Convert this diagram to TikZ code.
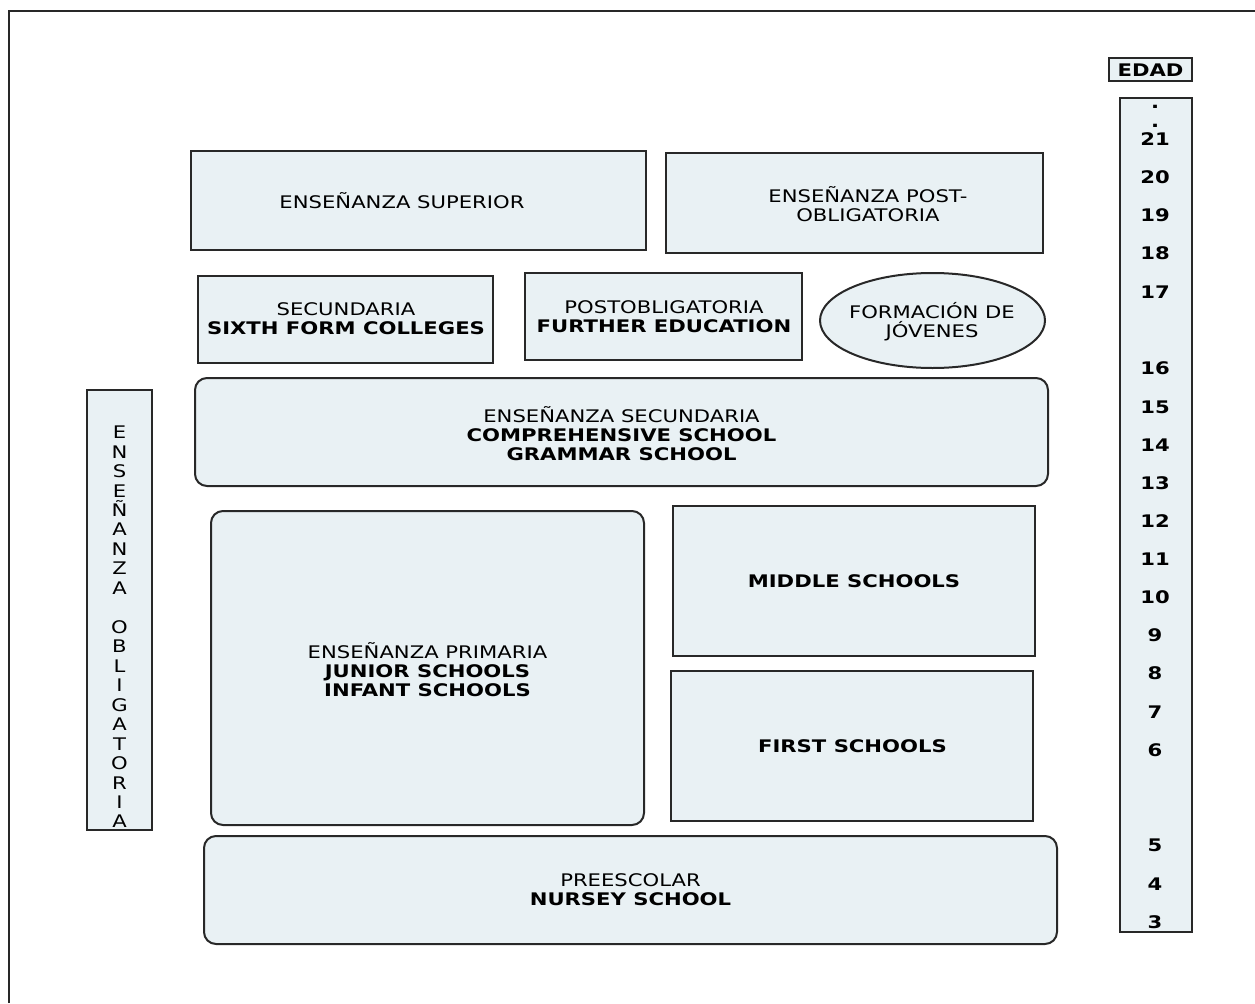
\documentclass[tikz,border=0pt]{standalone}
\usepackage{fontspec}
\setmainfont{DejaVu Sans}[FakeStretch=1.22]
\usetikzlibrary{shapes.geometric}
\definecolor{boxfill}{RGB}{233,241,244}
\definecolor{edge}{RGB}{40,40,40}
\begin{document}
\begin{tikzpicture}[x=0.75pt,y=-0.75pt,
  sz/.style n args={2}{minimum width=#1*0.75pt, minimum height=#2*0.75pt},
  box/.style={draw=edge, fill=boxfill, line width=1.5pt, inner sep=0pt, outer sep=0pt},
  rbox/.style={box, rounded corners=9pt},
  txt/.style={align=center, inner sep=0pt, font=\fontsize{13}{14.25}\selectfont},
  btxt/.style={txt, font=\fontsize{13}{14.25}\selectfont\bfseries},
  age/.style={inner sep=0pt, font=\fontsize{13}{14.25}\selectfont\bfseries}]
\useasboundingbox (0,0) rectangle (1255,1003);
% outer frame
\coordinate (fa) at (9,1003);
\coordinate (fb) at (9,11);
\coordinate (fc) at (1255,11);
\draw[line width=1.5pt, edge] (fa) -- (fb) -- (fc);
% boxes
\node[box, sz={455}{99}] (sup) at (418.5,200.5) {};
\node[txt] (tsup) at (402,201) {ENSEÑANZA SUPERIOR};
\node[box, sz={377}{100}] (post) at (854.5,203) {};
\node[txt] (tpost) at (868,204.5) {ENSEÑANZA POST-\\OBLIGATORIA};
\node[box, sz={295}{87}] (sixth) at (345.5,319.5) {};
\node[txt] (tsixth) at (346,319) {SECUNDARIA\\\textbf{SIXTH FORM COLLEGES}};
\node[box, sz={277}{87}] (further) at (663.5,316.5) {};
\node[txt] (tfurther) at (664,316.5) {POSTOBLIGATORIA\\\textbf{FURTHER EDUCATION}};
\node[box, ellipse, sz={225}{95}] (jov) at (932.5,320.5) {};
\node[txt] (tjov) at (932,321.5) {FORMACIÓN DE\\JÓVENES};
\node[rbox, sz={853}{108}] (secund) at (621.5,432) {};
\node[txt] (tsecund) at (621.5,434) {ENSEÑANZA SECUNDARIA\\\textbf{COMPREHENSIVE SCHOOL}\\\textbf{GRAMMAR SCHOOL}};
\node[rbox, sz={433}{314}] (prim) at (427.5,668) {};
\node[txt] (tprim) at (427.5,670) {ENSEÑANZA PRIMARIA\\\textbf{JUNIOR SCHOOLS}\\\textbf{INFANT SCHOOLS}};
\node[box, sz={362}{150}] (middle) at (854,581) {};
\node[btxt] (tmiddle) at (854,581) {MIDDLE SCHOOLS};
\node[box, sz={362}{150}] (first) at (852,746) {};
\node[btxt] (tfirst) at (852.5,746) {FIRST SCHOOLS};
\node[rbox, sz={853}{108}] (pre) at (630.5,890) {};
\node[txt] (tpre) at (630.5,890) {PREESCOLAR\\\textbf{NURSEY SCHOOL}};
% vertical box
\node[box, sz={65}{440}] (oblig) at (119.5,610) {};
\node[txt, font=\fontsize{13}{14.6}\selectfont] (toblig) at (119.5,627)
  {E\\N\\S\\E\\Ñ\\A\\N\\Z\\A\\\mbox{}\\O\\B\\L\\I\\G\\A\\T\\O\\R\\I\\A};
% age column
\node[box, sz={83}{23}] (edad) at (1150.5,69.5) {};
\node[age] (tedad) at (1150.5,70) {EDAD};
\node[box, sz={72}{834}] (ages) at (1156,515) {};
\node[age, anchor=base] (d1) at (1155,108) {.};
\node[age, anchor=base] (d2) at (1155,127) {.};
\foreach \a/\yy in {21/139,20/177,19/215,18/253,17/292,16/368,15/407,14/445,13/483,12/521,11/559,10/597,9/635,8/673,7/712,6/750,5/845,4/884,3/922}
  \node[age] (a\a) at (1155,\yy) {\a};
\end{tikzpicture}
\end{document}
